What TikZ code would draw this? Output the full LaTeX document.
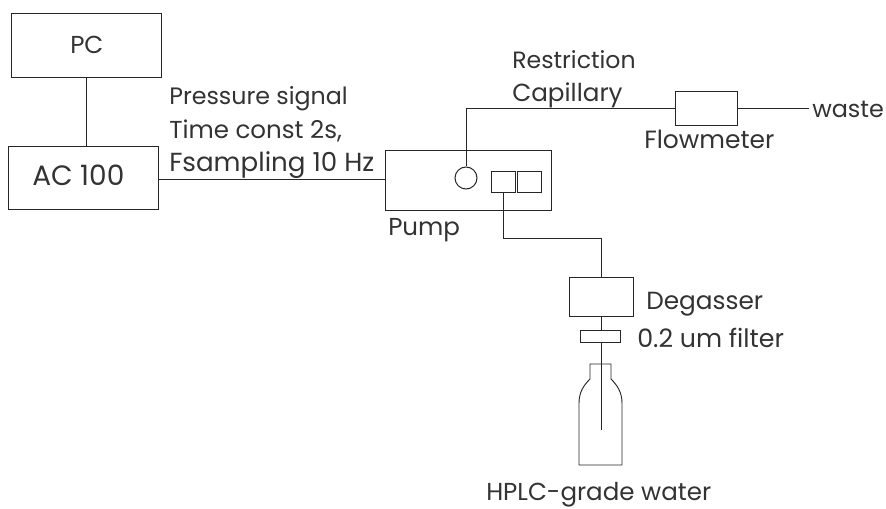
\documentclass[tikz,border=0pt]{standalone}
\usepackage{fontspec}
\setmainfont{Poppins}
\tikzset{
 box/.style={draw=black!85,line width=0.75pt,minimum width=0pt,minimum height=0pt,inner sep=0pt,fill=none},
 conn/.style={draw=black!85,line width=0.75pt},
 lab/.style={font=\fontsize{#1}{#1}\selectfont,text=black!80,inner sep=0pt,anchor=base west},
 lab/.default=18.4,
}
\begin{document}
\begin{tikzpicture}[x=0.75pt,y=-0.75pt]
\useasboundingbox (0,0) rectangle (886,509);
\newcommand{\bx}[5]{\node[box,minimum width=#4*0.75pt,minimum height=#5*0.75pt] (#1) at (#2,#3) {};}
\bx{pc}{86}{46}{150}{64}
\bx{ac}{83}{178.5}{150}{63}
\bx{pump}{468}{181}{166}{60}
\bx{b1}{503}{182.5}{24}{21}
\bx{b2}{529}{182.5}{24}{21}
\bx{fm}{706}{109}{62}{34}
\bx{deg}{601}{297.5}{64}{39}
\bx{fil}{600}{337}{40}{12}
\node[box,circle,minimum size=22*0.75pt] (circ) at (466,178) {};
\node[lab] (tpc) at (70,54) {PC};
\node[lab=21] (tac) at (32,186) {AC 100};
\node[lab=17.8] (l1) at (169,105) {Pressure signal};
\node[lab] (l2) at (169,139) {Time const 2s,};
\node[lab=19.6] (l3) at (169,172) {Fsampling 10 Hz};
\node[lab=17.7] (l4) at (512,69) {Restriction};
\node[lab=18.5] (l5) at (512,102) {Capillary};
\node[lab=18.7] (l6) at (644,149) {Flowmeter};
\node[lab=17.9] (l7) at (812,118) {waste};
\node[lab] (l8) at (388,236) {Pump};
\node[lab=18.6] (l9) at (646,310) {Degasser};
\node[lab=19] (l10) at (637,348) {0.2 um filter};
\node[lab] (l11) at (486,501) {HPLC-grade water};
\coordinate (wasteend) at (809,109);
\coordinate (sig) at (160,180);
\draw[conn] (pc.south) -- (pc.south |- ac.north);
\draw[conn] (ac.east |- sig) -- (sig -| pump.west);
\draw[conn] (circ.north) |- (fm.west);
\draw[conn] (fm.east) -- (wasteend);
\draw[conn] (b1.south) -- (503,239) -| (deg.north);
\draw[conn] (deg.south) -- (fil.north -| deg.south);
\coordinate (tubetop) at (601,343);
\coordinate (tubeend) at (601,430);
\draw[conn] (tubetop) -- (tubeend);
\draw[conn,line width=0.7pt] (590,379) -- (590,364) -- (611,364) -- (611,379)
  .. controls (617,385) and (622,392) .. (622,403) -- (622,465) -- (579,465) -- (579,403)
  .. controls (579,392) and (584,385) .. (590,379);
\end{tikzpicture}
\end{document}
